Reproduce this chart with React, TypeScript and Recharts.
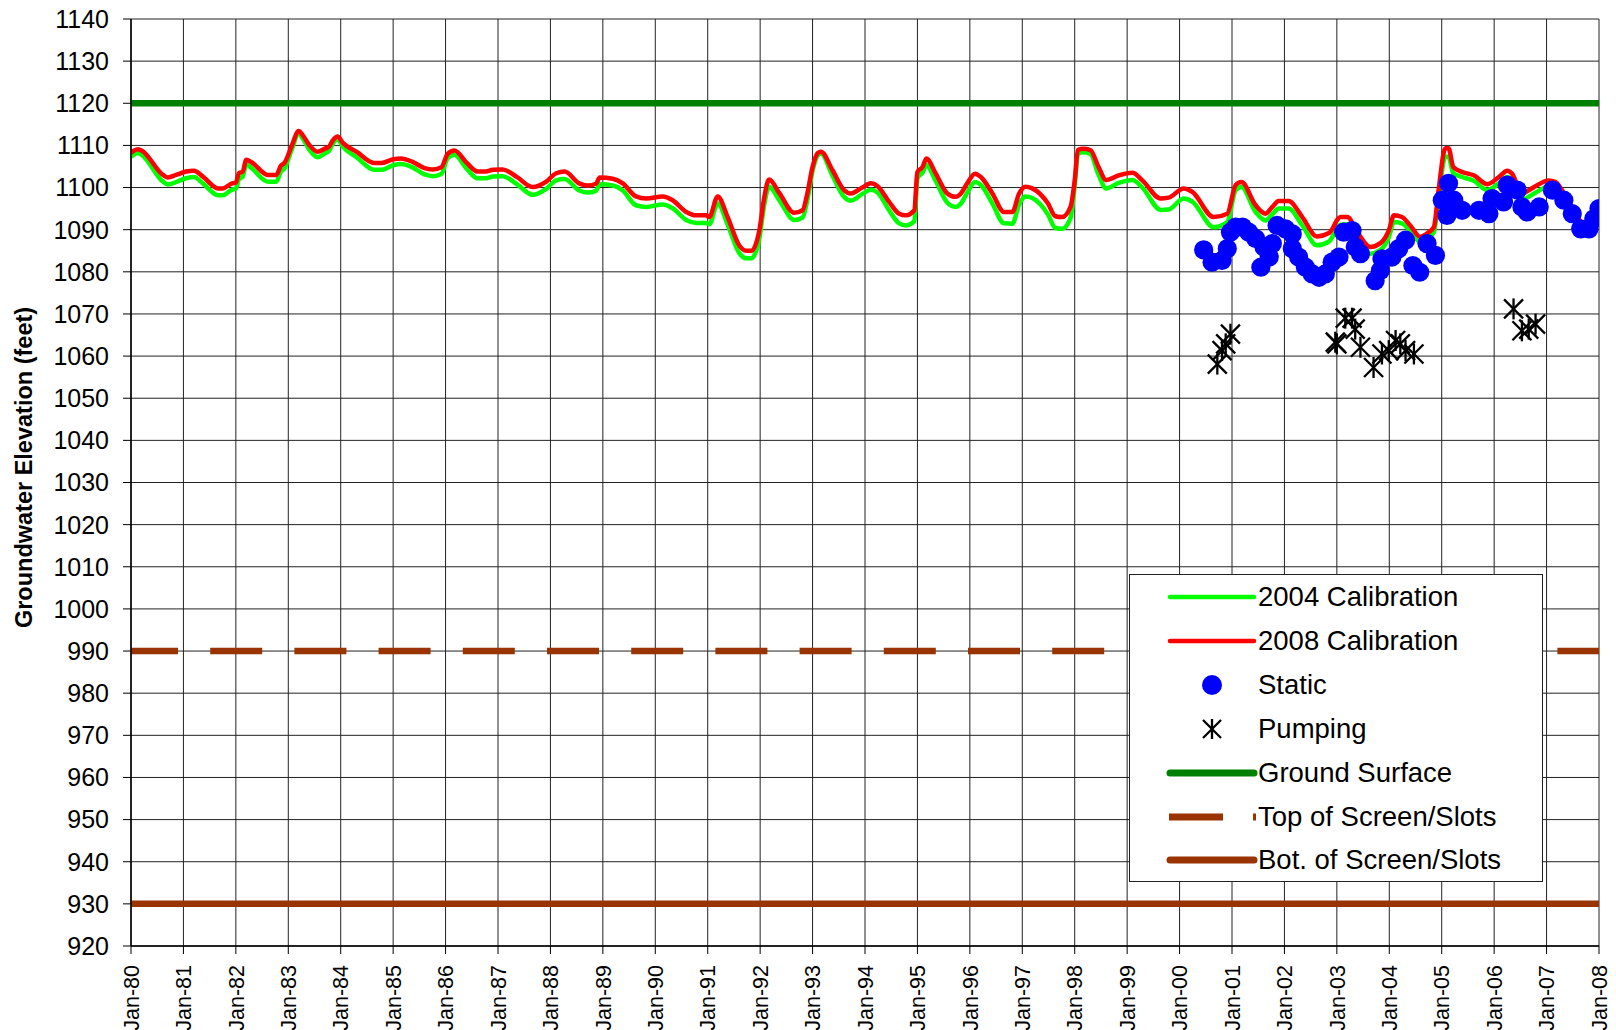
import React from 'react';
import { ComposedChart, Line, Scatter, XAxis, YAxis, CartesianGrid } from 'recharts';

const calibYears = [
  1980.0, 1980.13, 1980.2, 1980.61, 1980.7, 1980.86, 1981.05, 1981.2, 1981.37, 1981.66, 1981.75, 1981.91,
  1982.0, 1982.06, 1982.13, 1982.2, 1982.3, 1982.61, 1982.77, 1982.86, 1982.93, 1983.06, 1983.2, 1983.27,
  1983.4, 1983.56, 1983.71, 1983.77, 1983.85, 1983.94, 1984.04, 1984.3, 1984.64, 1984.77, 1985.0, 1985.15,
  1985.37, 1985.6, 1985.76, 1985.92, 1986.04, 1986.17, 1986.4, 1986.61, 1986.77, 1986.9, 1987.09, 1987.35,
  1987.66, 1987.92, 1988.11, 1988.27, 1988.55, 1988.71, 1988.87, 1988.94, 1989.19, 1989.38, 1989.63, 1989.83,
  1990.14, 1990.33, 1990.59, 1990.78, 1990.97, 1991.03, 1991.19, 1991.38, 1991.6, 1991.73, 1991.83, 1991.98,
  1992.08, 1992.17, 1992.37, 1992.65, 1992.81, 1992.9, 1993.0, 1993.1, 1993.16, 1993.38, 1993.6, 1993.73,
  1993.95, 1994.11, 1994.24, 1994.46, 1994.65, 1994.78, 1994.94, 1995.0, 1995.1, 1995.17, 1995.35, 1995.57,
  1995.73, 1995.83, 1995.95, 1996.1, 1996.21, 1996.43, 1996.65, 1996.81, 1996.94, 1997.06, 1997.19, 1997.49,
  1997.63, 1997.76, 1997.92, 1998.0, 1998.06, 1998.16, 1998.3, 1998.45, 1998.6, 1998.84, 1999.1, 1999.29,
  1999.64, 1999.79, 2000.08, 2000.24, 2000.65, 2000.91, 2001.07, 2001.18, 2001.45, 2001.64, 2001.77, 2001.89,
  2002.08, 2002.34, 2002.62, 2002.85, 2003.07, 2003.2, 2003.39, 2003.64, 2003.83, 2003.99, 2004.09, 2004.24,
  2004.4, 2004.59, 2004.75, 2004.85, 2004.94, 2005.07, 2005.13, 2005.22, 2005.39, 2005.61, 2005.87, 2006.09,
  2006.25, 2006.34, 2006.53, 2006.72, 2007.04, 2007.17, 2007.45, 2007.75, 2007.95,
];

const calib2004 = [
  1107.3, 1108.2, 1107.8, 1101.4, 1100.7, 1101.3, 1102.2, 1102.5, 1101.0, 1098.2, 1098.2, 1099.4,
  1099.8, 1102.0, 1102.6, 1105.5, 1104.6, 1101.4, 1101.4, 1103.8, 1104.6, 1108.8, 1112.8, 1111.8,
  1109.0, 1107.2, 1108.2, 1108.6, 1110.4, 1111.5, 1109.7, 1107.2, 1104.2, 1104.2, 1105.3, 1105.6,
  1104.8, 1103.1, 1102.7, 1103.2, 1107.0, 1107.8, 1104.5, 1102.2, 1102.2, 1102.6, 1102.7, 1100.9,
  1098.3, 1099.7, 1101.7, 1102.0, 1099.3, 1098.8, 1099.2, 1100.8, 1100.5, 1099.3, 1095.8, 1095.4,
  1096.0, 1095.1, 1092.3, 1091.6, 1091.6, 1091.3, 1096.2, 1091.2, 1084.5, 1083.2, 1083.2, 1087.6,
  1096.0, 1100.2, 1096.9, 1092.3, 1092.9, 1097.0, 1104.0, 1107.7, 1108.1, 1102.8, 1097.8, 1096.9,
  1098.5, 1099.5, 1098.8, 1094.6, 1091.5, 1091.0, 1092.0, 1102.2, 1103.6, 1105.3, 1101.5, 1096.4,
  1095.4, 1096.2, 1098.8, 1101.3, 1100.6, 1096.2, 1091.5, 1091.4, 1096.0, 1097.9, 1097.5, 1093.6,
  1090.4, 1090.2, 1092.8, 1100.5, 1108.0, 1108.4, 1108.0, 1103.2, 1099.8, 1101.1, 1101.8, 1100.0,
  1094.7, 1094.8, 1097.4, 1096.7, 1090.6, 1091.8, 1099.4, 1100.1, 1094.2, 1092.2, 1093.7, 1095.0,
  1095.0, 1091.0, 1086.3, 1087.2, 1091.2, 1091.3, 1087.8, 1084.3, 1085.2, 1088.2, 1091.8, 1091.5,
  1089.7, 1087.1, 1088.2, 1089.4, 1097.6, 1107.3, 1107.3, 1103.4, 1102.5, 1101.6, 1099.4, 1101.0,
  1102.5, 1101.8, 1097.1, 1098.3, 1100.2, 1099.8, 1094.5, 1089.5, 1090.5,
];

const calib2008 = [
  1108.3, 1109.1, 1108.8, 1103.0, 1102.4, 1103.0, 1103.8, 1104.0, 1102.6, 1099.8, 1099.8, 1100.9,
  1101.2, 1103.4, 1103.8, 1106.6, 1106.0, 1103.0, 1103.0, 1105.2, 1105.9, 1109.7, 1113.4, 1112.5,
  1110.1, 1108.5, 1109.3, 1109.6, 1111.2, 1112.1, 1110.6, 1108.5, 1105.8, 1105.8, 1106.7, 1106.9,
  1106.1, 1104.6, 1104.3, 1104.8, 1108.0, 1108.8, 1105.9, 1103.8, 1103.8, 1104.2, 1104.3, 1102.6,
  1100.1, 1101.4, 1103.4, 1103.8, 1101.0, 1100.5, 1100.9, 1102.4, 1102.1, 1101.0, 1097.9, 1097.4,
  1097.9, 1097.0, 1094.2, 1093.4, 1093.4, 1093.0, 1097.9, 1093.0, 1086.3, 1085.0, 1085.0, 1089.5,
  1097.8, 1101.9, 1098.6, 1094.0, 1094.6, 1098.6, 1104.9, 1108.2, 1108.5, 1104.1, 1099.4, 1098.6,
  1100.0, 1101.0, 1100.3, 1096.6, 1093.8, 1093.4, 1094.6, 1103.7, 1104.9, 1106.9, 1103.3, 1098.6,
  1097.8, 1098.6, 1101.0, 1103.3, 1102.5, 1098.6, 1094.2, 1094.2, 1098.6, 1100.2, 1099.8, 1096.2,
  1093.2, 1093.0, 1095.4, 1101.7, 1108.9, 1109.2, 1108.9, 1105.0, 1101.8, 1102.9, 1103.5, 1101.7,
  1097.4, 1097.6, 1099.8, 1099.0, 1093.0, 1093.8, 1100.6, 1101.3, 1095.8, 1093.8, 1095.4, 1096.8,
  1096.8, 1093.0, 1088.4, 1089.2, 1093.0, 1093.0, 1089.4, 1085.9, 1086.8, 1089.8, 1093.4, 1093.0,
  1091.0, 1088.3, 1089.4, 1090.6, 1099.4, 1109.3, 1109.3, 1104.9, 1103.7, 1102.9, 1100.8, 1102.5,
  1104.0, 1103.3, 1098.6, 1099.8, 1101.7, 1101.3, 1096.0, 1091.0, 1092.0,
];

const staticYears = [
  2000.46, 2000.62, 2000.81, 2000.91, 2000.97, 2001.07, 2001.2, 2001.32, 2001.45, 2001.61, 2001.55, 2001.71,
  2001.77, 2001.86, 2002.02, 2002.15, 2002.15, 2002.27, 2002.4, 2002.53, 2002.66, 2002.78, 2002.91, 2003.04,
  2003.13, 2003.29, 2003.35, 2003.45, 2003.73, 2003.83, 2003.86, 2004.05, 2004.18, 2004.31, 2004.45, 2004.58,
  2004.72, 2004.88, 2005.01, 2005.1, 2005.13, 2005.23, 2005.39, 2005.71, 2005.9, 2005.96, 2006.18, 2006.25,
  2006.44, 2006.53, 2006.63, 2006.86, 2007.11, 2007.33, 2007.49, 2007.65, 2007.81, 2007.9, 2008.0,
];
const staticLevels = [
  1085.2, 1082.3, 1082.7, 1085.5, 1089.4, 1090.6, 1090.6, 1089.4, 1087.9, 1085.9, 1081.1, 1083.5,
  1086.7, 1091.0, 1090.2, 1089.0, 1085.5, 1083.5, 1081.1, 1079.5, 1078.7, 1079.5, 1082.3, 1083.5,
  1089.4, 1089.8, 1085.9, 1084.3, 1077.9, 1080.3, 1083.1, 1083.5, 1085.5, 1087.5, 1081.5, 1079.9,
  1086.7, 1083.9, 1097.0, 1093.4, 1101.0, 1097.0, 1094.6, 1094.6, 1093.8, 1097.4, 1096.6, 1100.6,
  1099.4, 1095.4, 1094.2, 1095.4, 1099.4, 1097.0, 1093.8, 1090.2, 1090.2, 1092.6, 1095.0,
];

const pumpYears = [
  2000.72, 2000.81, 2000.88, 2000.97, 2003.0, 2002.97, 2003.16, 2003.29, 2003.35, 2003.45, 2003.7,
  2003.86, 2003.99, 2004.12, 2004.21, 2004.31, 2004.47, 2006.37, 2006.53, 2006.66, 2006.79,
];
const pumpLevels = [
  1058.1, 1061.3, 1062.9, 1065.2, 1062.9, 1063.3, 1069.0, 1069.0, 1066.4, 1062.1, 1057.3,
  1060.5, 1061.3, 1063.7, 1062.9, 1061.3, 1060.5, 1071.2, 1066.0, 1066.4, 1067.6,
];

const groundSurface = 1120;
const topOfScreen = 990;
const botOfScreen = 930;

const xTicks = [
  1980, 1981, 1982, 1983, 1984, 1985, 1986, 1987, 1988, 1989, 1990, 1991, 1992, 1993, 1994,
  1995, 1996, 1997, 1998, 1999, 2000, 2001, 2002, 2003, 2004, 2005, 2006, 2007, 2008,
];
const yTicks = [
  920, 930, 940, 950, 960, 970, 980, 990, 1000, 1010, 1020, 1030, 1040, 1050, 1060, 1070,
  1080, 1090, 1100, 1110, 1120, 1130, 1140,
];

const legendItems = [
  '2004 Calibration',
  '2008 Calibration',
  'Static',
  'Pumping',
  'Ground Surface',
  'Top of Screen/Slots',
  'Bot. of Screen/Slots',
];

const FONT = '"Liberation Sans", Arial, Helvetica, sans-serif';
const GREEN = '#00FF00';
const RED = '#FF0000';
const BLUE = '#0000FF';
const DARKGREEN = '#008000';
const BROWN = '#993300';

const d2004 = calibYears.map((x, i) => ({ x, y: calib2004[i] }));
const d2008 = calibYears.map((x, i) => ({ x, y: calib2008[i] }));
const dStatic = staticYears.map((x, i) => ({ x, y: staticLevels[i] }));
const dPump = pumpYears.map((x, i) => ({ x, y: pumpLevels[i] }));
const xMin = xTicks[0];
const xMax = xTicks[xTicks.length - 1];
const dGround = [{ x: xMin, y: groundSurface }, { x: xMax, y: groundSurface }];
const dTop = [{ x: xMin, y: topOfScreen }, { x: xMax, y: topOfScreen }];
const dBot = [{ x: xMin, y: botOfScreen }, { x: xMax, y: botOfScreen }];

const monthLabel = (v: number) => {
  const yy = String(Math.round(v) % 100).padStart(2, '0');
  return 'Jan-' + yy;
};

const XTick = (props: any) => {
  const { x, y, payload } = props;
  return (
    <text
      x={x}
      y={y}
      transform={`rotate(-90, ${x}, ${y})`}
      textAnchor="end"
      dy="0.36em"
      fontSize={21.5}
      fontFamily={FONT}
      fill="#000"
    >
      {monthLabel(payload.value)}
    </text>
  );
};

const Asterisk = (props: any) => {
  const { cx, cy } = props;
  if (cx == null || cy == null) return null;
  const a = 9.5;
  return (
    <g stroke="#000" strokeWidth={2.3} fill="none">
      <line x1={cx - a} y1={cy - a} x2={cx + a} y2={cy + a} />
      <line x1={cx - a} y1={cy + a} x2={cx + a} y2={cy - a} />
      <line x1={cx} y1={cy - a - 1} x2={cx} y2={cy + a + 1} />
    </g>
  );
};

const Dot = (props: any) => {
  const { cx, cy } = props;
  if (cx == null || cy == null) return null;
  return <circle cx={cx} cy={cy} r={9.6} fill={BLUE} />;
};

const YTitle = (props: any) => {
  const vb = props.viewBox || { x: 0, y: 19, width: 131, height: 927 };
  const cx = vb.x + 24;
  const cy = vb.y + vb.height / 2 - 15;
  return (
    <text
      x={cx}
      y={cy}
      transform={`rotate(-90, ${cx}, ${cy})`}
      textAnchor="middle"
      dy="0.36em"
      fontSize={23.5}
      fontWeight="bold"
      fontFamily={FONT}
      fill="#000"
    >
      Groundwater Elevation (feet)
    </text>
  );
};

const LegendSample = ({ i }: { i: number }) => {
  const w = 130;
  const h = 30;
  const m = h / 2;
  let el: any = null;
  if (i === 0) el = <line x1={40} y1={m} x2={124} y2={m} stroke={GREEN} strokeWidth={4.5} strokeLinecap="round" />;
  if (i === 1) el = <line x1={40} y1={m} x2={124} y2={m} stroke={RED} strokeWidth={4.5} strokeLinecap="round" />;
  if (i === 2) el = <circle cx={82} cy={m} r={10} fill={BLUE} />;
  if (i === 3)
    el = (
      <g stroke="#000" strokeWidth={2.3}>
        <line x1={73} y1={m - 9} x2={91} y2={m + 9} />
        <line x1={73} y1={m + 9} x2={91} y2={m - 9} />
        <line x1={82} y1={m - 10} x2={82} y2={m + 10} />
      </g>
    );
  if (i === 4) el = <line x1={40} y1={m} x2={124} y2={m} stroke={DARKGREEN} strokeWidth={7} strokeLinecap="round" />;
  if (i === 5)
    el = (
      <g stroke={BROWN} strokeWidth={7}>
        <line x1={39} y1={m} x2={93} y2={m} />
        <line x1={123} y1={m} x2={126} y2={m} />
      </g>
    );
  if (i === 6) el = <line x1={40} y1={m} x2={124} y2={m} stroke={BROWN} strokeWidth={7} strokeLinecap="round" />;
  return (
    <svg width={w} height={h} style={{ position: 'absolute', left: 0, top: 0 }}>
      {el}
    </svg>
  );
};

const ChartLegend = () => (
  <div
    style={{
      position: 'absolute',
      left: 1129,
      top: 574,
      width: 414,
      height: 308,
      background: '#fff',
      border: '1px solid #222',
      boxSizing: 'border-box',
      fontFamily: FONT,
      fontSize: 27.5,
      color: '#000',
    }}
  >
    {legendItems.map((label, i) => (
      <div
        key={label}
        style={{ position: 'absolute', left: 0, top: 22 + i * 43.9 - 15, width: 412, height: 30 }}
      >
        <LegendSample i={i} />
        <span
          style={{
            position: 'absolute',
            left: 128,
            top: 0,
            height: 30,
            lineHeight: '30px',
            whiteSpace: 'nowrap',
          }}
        >
          {label}
        </span>
      </div>
    ))}
  </div>
);

export default function App() {
  return (
    <div style={{ position: 'absolute', left: 0, top: 0, width: 1616, height: 1030, background: '#fff' }}>
      <ComposedChart
        width={1616}
        height={1030}
        margin={{ top: 19, right: 17, bottom: 0, left: 0 }}
      >
        <CartesianGrid stroke="#222" strokeWidth={1} ticks={undefined} />
        <XAxis
          type="number"
          dataKey="x"
          domain={[xMin, xMax]}
          ticks={xTicks}
          interval={0}
          allowDataOverflow
          height={84}
          tickSize={8}
          tickMargin={11}
          tick={<XTick />}
          axisLine={{ stroke: '#000', strokeWidth: 1.5 }}
          tickLine={{ stroke: '#000' }}
        />
        <YAxis
          type="number"
          domain={[yTicks[0], yTicks[yTicks.length - 1]]}
          ticks={yTicks}
          interval={0}
          allowDataOverflow
          width={131}
          tickSize={8}
          tickMargin={14}
          tick={{ fontSize: 25, fontFamily: FONT, fill: '#000' }}
          axisLine={{ stroke: '#000', strokeWidth: 1.5 }}
          tickLine={{ stroke: '#000' }}
          label={{ content: (p: any) => <YTitle {...p} /> }}
        />
        <Line
          data={dBot}
          dataKey="y"
          type="linear"
          stroke={BROWN}
          strokeWidth={6.5}
          strokeLinecap="round"
          dot={false}
          activeDot={false}
          isAnimationActive={false}
        />
        <Line
          data={dTop}
          dataKey="y"
          type="linear"
          stroke={BROWN}
          strokeWidth={6.5}
          strokeDasharray="52 32.2"
          strokeDashoffset={5}
          dot={false}
          activeDot={false}
          isAnimationActive={false}
        />
        <Line
          data={dGround}
          dataKey="y"
          type="linear"
          stroke={DARKGREEN}
          strokeWidth={6.5}
          strokeLinecap="round"
          dot={false}
          activeDot={false}
          isAnimationActive={false}
        />
        <Line
          data={d2004}
          dataKey="y"
          type="monotone"
          stroke={GREEN}
          strokeWidth={4.5}
          strokeLinejoin="round"
          dot={false}
          activeDot={false}
          isAnimationActive={false}
        />
        <Line
          data={d2008}
          dataKey="y"
          type="monotone"
          stroke={RED}
          strokeWidth={4.5}
          strokeLinejoin="round"
          dot={false}
          activeDot={false}
          isAnimationActive={false}
        />
        <Scatter data={dStatic} dataKey="y" shape={<Dot />} isAnimationActive={false} />
        <Scatter data={dPump} dataKey="y" shape={<Asterisk />} isAnimationActive={false} />
      </ComposedChart>
      <ChartLegend />
    </div>
  );
}
